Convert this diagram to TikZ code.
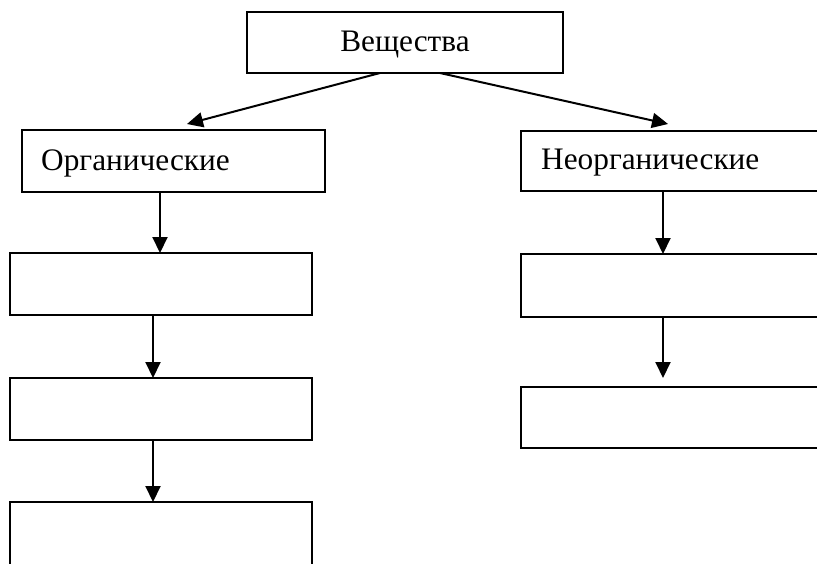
\documentclass[tikz,border=0pt]{standalone}
\usepackage{fontspec}
\setmainfont{Liberation Serif}
\usetikzlibrary{arrows.meta}
\begin{document}
\begin{tikzpicture}[x=1pt,y=-1pt,
  box/.style={draw, line width=1.8pt, rectangle, inner sep=0pt, outer sep=0pt, anchor=north west},
  lbl/.style={anchor=west, inner sep=0pt, font=\fontsize{31.3}{36}\selectfont},
  conn/.style={line width=2pt, -{Triangle[length=16pt,width=15pt]}}]
\useasboundingbox (0,0) rectangle (817,563);
\clip (0,0) rectangle (817,563);
\fill[white] (0,0) rectangle (817,563);
% top
\node[box, minimum width=316pt, minimum height=61pt] (top) at (247,12) {};
\node[inner sep=0pt, font=\fontsize{31.3}{36}\selectfont] (toplbl) at ([yshift=-2pt]top.center) {Вещества};
% left column
\node[box, minimum width=303pt, minimum height=62pt] (org) at (22,130) {};
\node[lbl] (orglbl) at ([xshift=19pt,yshift=-2pt]org.west) {Органические};
\node[box, minimum width=302pt, minimum height=62pt] (l2) at (10,253) {};
\node[box, minimum width=302pt, minimum height=62pt] (l3) at (10,378) {};
\node[box, minimum width=302pt, minimum height=100pt] (l4) at (10,502) {};
% right column
\node[box, minimum width=330pt, minimum height=60pt] (inorg) at (521,131) {};
\node[lbl] (inorglbl) at ([xshift=20pt,yshift=-2pt]inorg.west) {Неорганические};
\node[box, minimum width=330pt, minimum height=63pt] (r2) at (521,254) {};
\node[box, minimum width=330pt, minimum height=61pt] (r3) at (521,387) {};
% connectors
\coordinate (tl) at (380,73);
\coordinate (tr) at (440,73);
\draw[conn] (tl) -- (187,124) coordinate (orgin);
\draw[conn] (tr) -- (668,124) coordinate (inorgin);
\draw[conn] (org.south -| 160,0) -- (l2.north -| 160,0);
\draw[conn] (l2.south -| 153,0) -- (l3.north -| 153,0);
\draw[conn] (l3.south -| 153,0) -- (l4.north -| 153,0);
\draw[conn] (inorg.south -| 663,0) -- (r2.north -| 663,0);
\draw[conn] (r2.south -| 663,0) -- (663,378);
\end{tikzpicture}
\end{document}
